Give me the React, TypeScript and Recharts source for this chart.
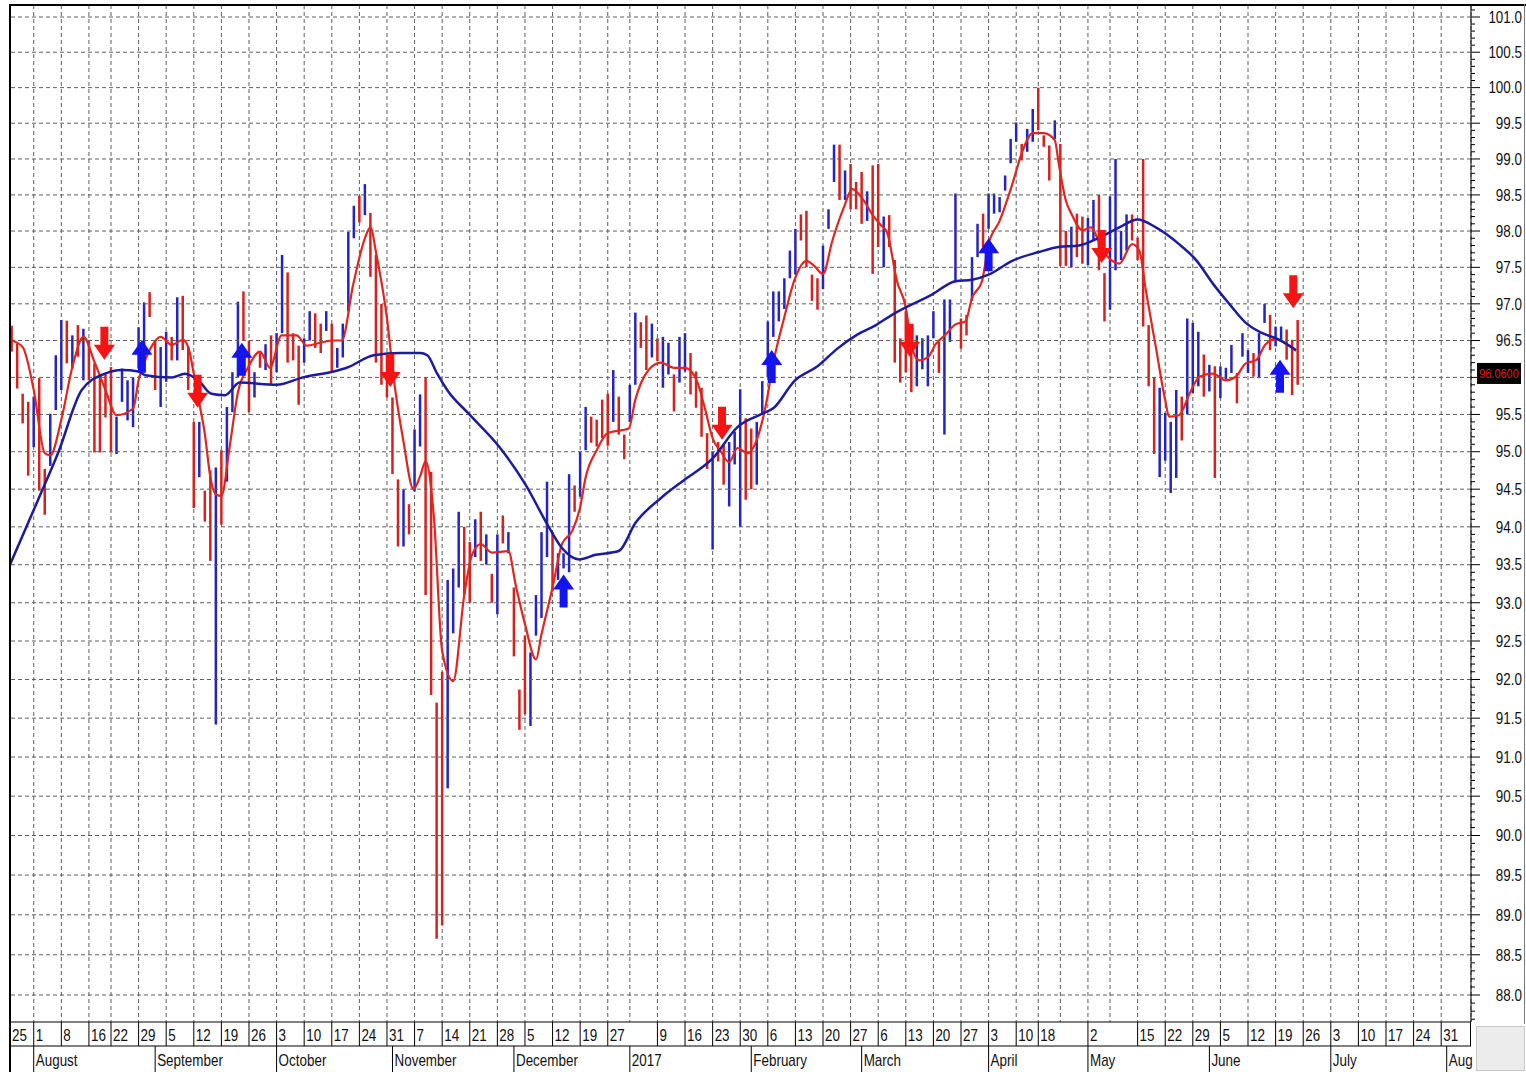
import React from "react";
import {
  Bar,
  CartesianGrid,
  ComposedChart,
  Line,
  ReferenceLine,
  Scatter,
  XAxis,
  YAxis,
} from "recharts";

const FONT =
  "'Liberation Sans Narrow', 'Arial Narrow', 'Liberation Sans', Arial, sans-serif";
// no narrow face is installed, so the regular face is squeezed horizontally
const NARROW = 0.84;

const RED_BAR = "#d8201c";
const BLUE_BAR = "#2424c4";
const FAST_COLOR = "#e0261e";
const SLOW_COLOR = "#1c1c9c";

// x = trading-day index, 0 = Mon 25 Jul 2016 (exchange holidays are skipped)
const X_MIN = 0.7;
const X_MAX = 265.4;
// price axis is logarithmic, as in the original
const Y_MIN = 87.666;
const Y_MAX = 101.171;

const FIRST_BAR = 1;

// daily highs / lows, one entry per trading day from index 1
const BAR_HIGH = [
  96.7, 96.46, 95.78, 95.67, 95.74, 95.99, 94.77, 95.51, 96.3, 96.78,
  96.77, 96.57, 96.71, 96.66, 96.5, 96.19, 96.05, 96.05, 96.14, 95.47,
  96.12, 95.96, 96.0, 96.68, 97.02, 97.16, 96.5, 96.41, 96.62, 96.55,
  97.09, 97.11, 96.41, 95.4, 95.4, 94.48, 94.75, 94.79, 95.02, 95.6,
  96.07, 97.03, 97.17, 96.5, 96.07, 96.33, 96.45, 96.57, 96.6, 97.67,
  97.43, 96.6, 96.43, 96.53, 96.9, 96.87, 96.73, 96.9, 96.73, 96.4,
  96.73, 97.99, 98.35, 98.49, 98.65, 98.25, 97.67, 97.0, 96.33, 95.73,
  94.63, 94.5, 94.3, 95.3, 95.77, 96.0, 94.73, 91.7, 92.1, 93.3,
  93.45, 94.2, 94.0, 93.8, 94.1, 94.2, 93.9, 93.38, 93.9, 94.15,
  93.93, 93.2, 91.87, 92.57, 92.35, 93.1, 93.93, 94.6, 93.93, 93.65,
  93.65, 94.7, 94.55, 95.0, 95.6, 95.47, 95.43, 95.7, 95.78, 96.1,
  95.74, 95.23, 95.9, 96.88, 96.75, 96.84, 96.73, 96.53, 96.55, 96.47,
  96.04, 96.55, 96.6, 96.33, 96.08, 95.86, 95.25, 95.0, 95.13, 95.1,
  95.13, 95.27, 95.84, 95.45, 95.31, 95.4, 95.95, 96.76, 97.17, 97.17,
  97.35, 97.73, 98.03, 98.23, 98.28, 97.4, 97.35, 97.8, 98.3, 99.2,
  99.2, 98.84, 98.93, 98.68, 98.82, 98.55, 98.91, 98.93, 98.2, 98.22,
  97.6, 96.53, 96.9, 96.58, 96.57, 96.53, 96.57, 96.9, 96.48, 97.06,
  97.06, 98.52, 96.8, 96.85, 97.64, 98.1, 98.24, 98.52, 98.52, 98.47,
  98.77, 99.28, 99.51, 99.21, 99.42, 99.7, 100.0, 99.33, 99.19, 99.54,
  99.21, 98.0, 98.06, 98.24, 98.2, 98.18, 98.43, 98.5, 97.42, 98.48,
  99.0, 98.0, 98.23, 98.23, 97.91, 99.0, 96.71, 96.0, 95.86, 95.52,
  95.4, 95.83, 95.74, 96.8, 96.74, 96.62, 96.31, 96.17, 96.15, 96.15,
  96.13, 96.44, 96.06, 96.6, 96.37, 96.33, 96.6, 97.0, 96.85, 96.69,
  96.69, 96.65, 96.51, 96.78,
];

const BAR_LOW = [
  96.35, 95.85, 95.38, 94.68, 95.06, 94.48, 94.16, 94.81, 95.56, 95.83,
  96.19, 96.12, 96.28, 95.96, 95.96, 94.99, 94.99, 95.46, 94.99, 94.97,
  95.67, 95.42, 95.33, 96.12, 96.41, 96.82, 95.83, 95.6, 95.94, 96.23,
  96.23, 96.37, 95.83, 94.25, 94.66, 94.07, 93.55, 91.42, 94.03, 94.6,
  95.53, 96.0, 96.5, 95.53, 95.73, 96.13, 96.1, 95.9, 96.07, 96.6,
  96.2, 96.23, 95.63, 96.2, 96.5, 96.4, 96.33, 96.63, 96.07, 96.13,
  96.27, 96.9, 97.9, 98.12, 98.22, 97.37, 96.2, 95.9, 95.73, 94.7,
  93.74, 93.74, 93.9, 94.47, 95.07, 93.1, 91.8, 88.7, 88.87, 90.6,
  92.6, 93.2, 93.1, 93.0, 93.6, 93.55, 93.5, 93.0, 92.85, 93.78,
  93.65, 92.3, 91.35, 91.55, 91.4, 92.57, 92.8, 93.6, 93.15, 93.3,
  93.45, 93.4, 94.2, 94.4, 95.02, 95.12, 95.07, 95.18, 95.08, 95.4,
  95.23, 94.9, 95.4, 95.9, 96.4, 96.1, 96.27, 96.22, 95.86, 96.04,
  95.54, 95.93, 96.08, 95.77, 95.59, 95.2, 94.77, 93.7, 94.87, 94.56,
  94.27, 94.83, 94.0, 94.36, 94.5, 94.56, 95.5, 96.0, 96.55, 96.76,
  96.93, 97.35, 97.4, 97.87, 97.5, 97.04, 96.92, 97.2, 98.03, 98.68,
  98.43, 98.43, 98.3, 98.3, 98.1, 98.14, 97.41, 97.78, 97.5, 97.78,
  96.2, 95.93, 96.07, 95.8, 95.88, 96.11, 95.88, 96.53, 96.06, 95.23,
  96.48, 97.31, 96.39, 96.57, 97.04, 97.64, 97.78, 98.03, 98.24, 98.26,
  98.56, 98.94, 99.24, 98.98, 99.1, 99.24, 99.4, 99.17, 98.7, 99.28,
  97.52, 97.52, 97.5, 97.64, 97.55, 97.53, 97.87, 97.46, 96.76, 96.92,
  97.46, 97.6, 97.73, 97.87, 97.6, 96.69, 95.88, 94.97, 94.66, 94.88,
  94.45, 94.65, 95.15, 95.5, 95.79, 95.88, 95.74, 95.81, 94.65, 95.72,
  95.97, 96.06, 95.65, 96.28, 96.06, 96.01, 95.99, 96.74, 96.37, 96.42,
  96.51, 96.24, 95.76, 95.9,
];

// 1 = up day (blue), 0 = down day (red)
const BAR_UP = [
  0, 0, 0, 0, 1, 0, 0, 1, 1, 1,
  0, 1, 0, 1, 0, 0, 0, 0, 0, 1,
  1, 1, 1, 1, 1, 0, 0, 1, 1, 0,
  1, 0, 0, 0, 1, 0, 0, 1, 0, 1,
  1, 1, 0, 0, 1, 0, 1, 0, 1, 1,
  0, 0, 0, 1, 1, 0, 0, 1, 0, 1,
  1, 1, 1, 0, 1, 0, 0, 0, 0, 0,
  0, 1, 0, 1, 1, 0, 0, 0, 0, 1,
  1, 1, 0, 0, 1, 0, 1, 0, 1, 0,
  1, 0, 0, 0, 1, 1, 1, 1, 0, 1,
  1, 1, 0, 1, 1, 0, 0, 0, 0, 1,
  0, 0, 1, 1, 0, 0, 1, 0, 1, 1,
  0, 1, 1, 0, 0, 0, 0, 1, 0, 0,
  1, 1, 1, 0, 0, 1, 1, 1, 1, 1,
  1, 1, 1, 0, 0, 0, 0, 1, 1, 1,
  0, 1, 0, 0, 0, 1, 0, 0, 1, 0,
  0, 0, 0, 0, 1, 1, 1, 1, 0, 1,
  1, 1, 0, 0, 1, 1, 0, 1, 1, 1,
  1, 1, 1, 0, 1, 1, 0, 0, 0, 1,
  0, 0, 1, 0, 0, 1, 1, 0, 0, 1,
  1, 1, 1, 0, 0, 0, 0, 0, 1, 1,
  1, 1, 0, 1, 1, 1, 0, 1, 0, 1,
  1, 1, 0, 1, 1, 0, 1, 1, 0, 1,
  1, 0, 0, 0,
];

// short moving average (red), read as [trading-day index, price]
const FAST_LINE: [number, number][] = [
  [1, 96.5], [3, 96.41], [5, 95.83], [7, 94.98], [8, 94.95], [10, 95.43],
  [12, 96.14], [14, 96.55], [16, 96.21], [18, 95.83], [20, 95.49], [23, 95.58],
  [24, 95.96], [26, 96.37], [28, 96.55], [30, 96.44], [32, 96.51], [33, 96.41],
  [34, 96.05], [35, 95.65], [36, 95.24], [37, 94.66], [38, 94.43], [39, 94.41],
  [40.5, 95.07], [42, 95.8], [43.8, 96.13], [46, 96.35], [47.8, 96.13], [49.9, 96.57],
  [52.6, 96.57], [54.5, 96.43], [56.9, 96.47], [59.3, 96.5], [60.8, 96.5], [62.9, 97.27],
  [65, 97.9], [66, 98.05], [67.1, 97.67], [69, 96.8], [70.2, 96.0], [72, 95.13],
  [73.8, 94.5], [75, 94.67], [76, 94.87], [77.5, 94.13], [79, 92.37], [81, 91.98],
  [83, 93.1], [84.4, 93.63], [86, 93.77], [88, 93.66], [91, 93.68], [92.3, 93.24],
  [94, 92.72], [96, 92.26], [97, 92.59], [99, 93.2], [100.7, 93.77], [102.6, 93.95],
  [104, 94.26], [105, 94.66], [107, 95.02], [109, 95.25], [111.6, 95.29], [112.8, 95.31],
  [114, 95.7], [116.4, 96.1], [118.6, 96.2], [121, 96.13], [123, 96.13], [125, 95.98],
  [126.5, 95.61], [128, 95.18], [129.5, 95.0], [131, 94.86], [132.5, 95.05], [134.3, 94.98],
  [136, 95.16], [137.6, 95.61], [139, 96.2], [141, 96.82], [142.8, 97.32], [145, 97.59],
  [146.4, 97.52], [148, 97.41], [149.7, 97.87], [151.8, 98.33], [153.3, 98.58], [155.4, 98.42],
  [157, 98.22], [158.5, 98.08], [159.6, 97.98], [161.4, 97.31], [163, 96.95], [164, 96.45],
  [165.4, 96.23], [167, 96.27], [168.4, 96.45], [170.2, 96.58], [172, 96.72], [173.8, 96.76],
  [175, 97.08], [176.8, 97.31], [178, 97.82], [180, 98.14], [182.3, 98.65], [184, 99.08],
  [186, 99.36], [188, 99.36], [190, 99.26], [190.7, 98.94], [192, 98.42], [193, 98.24],
  [195, 98.01], [196.5, 98.05], [198.7, 97.73], [201.7, 97.55], [204, 97.82], [205.3, 97.73],
  [206.5, 97.18], [208.3, 96.41], [210, 95.69], [210.7, 95.47], [212.5, 95.49], [214.4, 95.78],
  [216.2, 96.01], [218.6, 96.05], [221, 95.96], [222.8, 96.01], [224.6, 96.19], [226.4, 96.23],
  [228.2, 96.45], [230, 96.52], [232, 96.45], [233.7, 96.36],
];

// long moving average (blue)
const SLOW_LINE: [number, number][] = [
  [0.7, 93.5], [5.8, 94.36], [9.5, 95.0], [13.7, 95.83], [17.9, 96.05], [20.9, 96.1],
  [24, 96.08], [25.2, 96.03], [30, 96.0], [32.4, 96.05], [34.8, 95.96], [37.2, 95.78],
  [39.7, 95.76], [42.3, 95.93], [49, 95.9], [53.8, 96.0], [59.3, 96.08], [61.7, 96.13],
  [66.6, 96.3], [71.4, 96.33], [75, 96.33], [76.3, 96.3], [78.1, 96.05], [80, 95.82],
  [83.8, 95.51], [89.3, 95.07], [94.1, 94.56], [98.3, 94.0], [100.7, 93.72], [103.8, 93.57],
  [106.8, 93.63], [111, 93.68], [114, 94.05], [118.6, 94.38], [122.8, 94.62], [128, 94.91],
  [132.5, 95.33], [136.7, 95.5], [139.1, 95.59], [142.8, 95.95], [147, 96.15], [150.6, 96.39],
  [154.2, 96.58], [157.6, 96.71], [160.5, 96.85], [167.8, 97.13], [172, 97.31], [175, 97.33],
  [178, 97.4], [182.3, 97.59], [187.1, 97.71], [190.7, 97.78], [194.4, 97.8], [198.1, 97.91],
  [201.7, 98.05], [205, 98.16], [208.3, 98.05], [212.5, 97.82], [215.6, 97.6], [218.6, 97.28],
  [221.6, 97.0], [224.6, 96.74], [227.6, 96.6], [230.7, 96.51], [233.7, 96.37],
];

// signal arrows: [index, price at the arrow tip]
const SELL_SIGNALS: [number, number][] = [
  [17.8, 96.24], [34.7, 95.59], [69.6, 95.87], [129.7, 95.16],
  [163.7, 96.28], [198.5, 97.56], [233.2, 96.94],
];
const BUY_SIGNALS: [number, number][] = [
  [24.6, 96.51], [42.7, 96.47], [101, 93.37], [138.7, 96.37],
  [178, 97.9], [230.8, 96.24],
];

const LAST_PRICE = 96.06;

// first trading day of each week; "" = week without a printed label
const DAY_TICKS: [number, string][] = [
  [0, "25"], [5, "1"], [10, "8"], [15, "16"], [19, "22"], [24, "29"],
  [29, "5"], [34, "12"], [39, "19"], [44, "26"], [49, "3"], [54, "10"],
  [59, "17"], [64, "24"], [69, "31"], [74, "7"], [79, "14"], [84, "21"],
  [89, "28"], [94, "5"], [99, "12"], [104, "19"], [109, "27"], [113, ""],
  [118, "9"], [123, "16"], [128, "23"], [133, "30"], [138, "6"], [143, "13"],
  [148, "20"], [153, "27"], [158, "6"], [163, "13"], [168, "20"], [173, "27"],
  [178, "3"], [183, "10"], [187, "18"], [191, ""], [196, "2"], [200, ""],
  [205, "15"], [210, "22"], [215, "29"], [220, "5"], [225, "12"], [230, "19"],
  [235, "26"], [240, "3"], [245, "10"], [250, "17"], [255, "24"], [260, "31"],
];

const MONTH_TICKS: [number, string][] = [
  [5, "August"], [27, "September"], [49, "October"], [70, "November"],
  [92, "December"], [113, "2017"], [135, "February"], [155, "March"],
  [178, "April"], [196, "May"], [218, "June"], [240, "July"], [261, "Aug"],
];

const PRICE_GRID = [
  88.0, 88.5, 89.0, 89.5, 90.0, 90.5, 91.0, 91.5, 92.0, 92.5, 93.0, 93.5, 94.0,
  94.5, 95.0, 95.5, 96.0, 96.5, 97.0, 97.5, 98.0, 98.5, 99.0, 99.5, 100.0,
  100.5, 101.0,
];

// minor ticks every 0.1 across the visible range
const PRICE_TICKS = Array.from({ length: 135 }, (_, i) => Math.round(877 + i) / 10);

const bars = BAR_HIGH.map((h, i) => ({
  idx: FIRST_BAR + i,
  range: [BAR_LOW[i], h],
  up: BAR_UP[i] === 1,
}));
const fastData = FAST_LINE.map(([idx, v]) => ({ idx, v }));
const slowData = SLOW_LINE.map(([idx, v]) => ({ idx, v }));
const arrows = [
  ...SELL_SIGNALS.map(([idx, p]) => ({ idx, p, dir: "down" })),
  ...BUY_SIGNALS.map(([idx, p]) => ({ idx, p, dir: "up" })),
];

const dayTickValues = DAY_TICKS.map(([i]) => Math.max(i, X_MIN));
const dayLabel = new Map(DAY_TICKS.map(([i, s]) => [Math.max(i, X_MIN), s]));
const monthLabel = new Map(MONTH_TICKS.map(([i, s]) => [i, s]));

function NarrowText({ x, y, anchor = "start", size = 16, fill = "#111", dy, children }: any) {
  return (
    <text
      transform={`translate(${x},${y}) scale(${NARROW},1)`}
      dy={dy}
      textAnchor={anchor}
      fontSize={size}
      fontFamily={FONT}
      fill={fill}
    >
      {children}
    </text>
  );
}

function Candle(props: any) {
  const { x, y, width, height, payload } = props;
  if (x == null || y == null) return null;
  const cx = x + width / 2;
  const top = Math.min(y, y + height);
  const bot = Math.max(y, y + height, top + 2);
  return (
    <line
      x1={cx}
      x2={cx}
      y1={top}
      y2={bot}
      stroke={payload.up ? BLUE_BAR : RED_BAR}
      strokeWidth={2.5}
    />
  );
}

function SignalArrow(props: any) {
  const { cx, cy, payload } = props;
  if (cx == null || cy == null) return null;
  const d = payload.dir === "down" ? 1 : -1;
  const pts = [
    [0, 0],
    [10.5, -15 * d],
    [4, -15 * d],
    [4, -33 * d],
    [-4, -33 * d],
    [-4, -15 * d],
    [-10.5, -15 * d],
  ]
    .map(([px, py]) => `${cx + px},${cy + py}`)
    .join(" ");
  return <polygon points={pts} fill={d === 1 ? "#f41414" : "#1414f0"} />;
}

function DayTick(props: any) {
  const { x, y, payload } = props;
  const label = dayLabel.get(payload.value) ?? "";
  if (!label) return null;
  return (
    <g>
      <line x1={x} x2={x} y1={y} y2={y + 24} stroke="#000" />
      <NarrowText x={x + 2} y={y + 19}>{label}</NarrowText>
    </g>
  );
}

function MonthTick(props: any) {
  const { x, y, payload } = props;
  const label = monthLabel.get(payload.value) ?? "";
  return (
    <g>
      <line x1={x} x2={x} y1={y} y2={y + 26} stroke="#000" />
      <NarrowText x={x + 2} y={y + 20}>{label}</NarrowText>
    </g>
  );
}

function PriceTick(props: any) {
  const { x, y, payload } = props;
  const v = Math.round(payload.value * 10);
  const major = v % 5 === 0;
  return (
    <g>
      <line x1={x} x2={x + (major ? 9 : 4)} y1={y} y2={y} stroke="#000" />
      {major && v !== 960 && (
        <NarrowText x={x + 51} y={y} dy="0.36em" anchor="end">
          {(v / 10).toFixed(1)}
        </NarrowText>
      )}
    </g>
  );
}

function PriceTag(props: any) {
  const vb = props.viewBox;
  if (!vb) return null;
  const x = vb.x + vb.width + 6;
  const y = vb.y;
  return (
    <g>
      <rect x={x} y={y - 10} width={44} height={21} fill="#000" />
      <NarrowText x={x + 22} y={y} dy="0.35em" anchor="middle" size={13} fill="#e01818">
        {LAST_PRICE.toFixed(4)}
      </NarrowText>
    </g>
  );
}

export default function App() {
  return (
    <div
      style={{
        position: "absolute",
        left: 0,
        top: 0,
        width: 1526,
        height: 1072,
        background: "#fff",
        overflow: "hidden",
      }}
    >
      <ComposedChart
        width={1526}
        height={1072}
        data={bars}
        margin={{ top: 5, right: 0, left: 10, bottom: 0 }}
      >
        <CartesianGrid horizontal={false} stroke="#5e5e5e" strokeDasharray="4 3" />
        {PRICE_GRID.map((p) => (
          <ReferenceLine key={p} y={p} stroke="#5e5e5e" strokeDasharray="4 3" />
        ))}
        <XAxis
          dataKey="idx"
          type="number"
          domain={[X_MIN, X_MAX]}
          allowDataOverflow
          ticks={dayTickValues}
          interval={0}
          tick={<DayTick />}
          tickLine={false}
          tickSize={0}
          tickMargin={0}
          height={24}
          axisLine={{ stroke: "#000" }}
        />
        <XAxis
          xAxisId="month"
          dataKey="idx"
          type="number"
          domain={[X_MIN, X_MAX]}
          allowDataOverflow
          ticks={MONTH_TICKS.map(([i]) => i)}
          interval={0}
          tick={<MonthTick />}
          tickLine={false}
          tickSize={0}
          tickMargin={0}
          height={26}
          axisLine={{ stroke: "#000" }}
        />
        <YAxis
          orientation="right"
          scale="log"
          domain={[Y_MIN, Y_MAX]}
          allowDataOverflow
          ticks={PRICE_TICKS}
          interval={0}
          tick={<PriceTick />}
          tickLine={false}
          tickSize={0}
          tickMargin={0}
          width={55}
          axisLine={{ stroke: "#000" }}
        />
        <Bar dataKey="range" barSize={3} shape={<Candle />} isAnimationActive={false} />
        <Line
          data={fastData}
          dataKey="v"
          type="monotone"
          stroke={FAST_COLOR}
          strokeWidth={2.2}
          dot={false}
          activeDot={false}
          isAnimationActive={false}
        />
        <Line
          data={slowData}
          dataKey="v"
          type="monotone"
          stroke={SLOW_COLOR}
          strokeWidth={2.5}
          dot={false}
          activeDot={false}
          isAnimationActive={false}
        />
        <Scatter data={arrows} dataKey="p" shape={<SignalArrow />} isAnimationActive={false} />
        <ReferenceLine y={LAST_PRICE} stroke="none" label={<PriceTag />} />
      </ComposedChart>
      {/* frame pieces of the original window */}
      <div style={{ position: "absolute", left: 9, top: 4, width: 1517, height: 2, background: "#000" }} />
      <div style={{ position: "absolute", left: 9, top: 4, width: 2, height: 1068, background: "#000" }} />
      <div style={{ position: "absolute", left: 1524, top: 4, width: 1, height: 1020, background: "#777" }} />
      <div style={{ position: "absolute", left: 1470, top: 1022, width: 1, height: 24, background: "#000" }} />
      <div
        style={{
          position: "absolute",
          left: 1476,
          top: 1026,
          width: 47,
          height: 43,
          background: "#ececec",
          border: "1px solid #c8c8c8",
        }}
      />
    </div>
  );
}
